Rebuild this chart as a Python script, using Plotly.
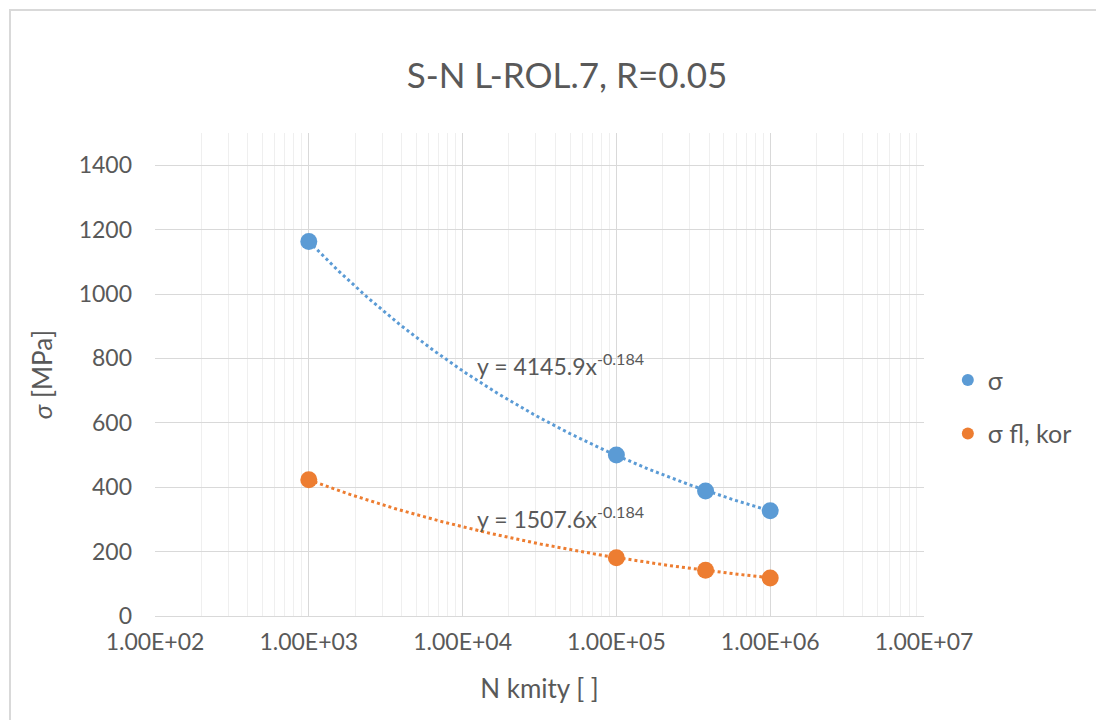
import numpy as np
import plotly.graph_objects as go

# ---- data ----
cycles = [1000, 100000, 380000, 1000000]
sigma = [1163, 500, 388, 327]
sigma_fl_kor = [423, 181, 142, 118]
series_names = ["σ", "σ fl, kor"]
colors = ["#5B9BD5", "#ED7D31"]
# power trendline coefficients as printed on the chart: y = a * x^b
trend_a = [4145.9, 1507.6]
trend_b = [-0.184, -0.184]
x_tickvals = [1e2, 1e3, 1e4, 1e5, 1e6, 1e7]
x_ticktext = ["1.00E+02", "1.00E+03", "1.00E+04", "1.00E+05", "1.00E+06", "1.00E+07"]
y_tickvals = [0, 200, 400, 600, 800, 1000, 1200, 1400]

FONT = "Lato, Calibri, sans-serif"
GRAY = "#595959"

fig = go.Figure()

xs = np.logspace(np.log10(min(cycles)), np.log10(max(cycles)), 200)
eq_pos = [(4.08, 781), (4.08, 305)]
for a, b, c, pos in zip(trend_a, trend_b, colors, eq_pos):
    fig.add_trace(go.Scatter(x=xs, y=a * xs ** b, mode="lines",
                             line=dict(color=c, width=3, dash="dot"),
                             showlegend=False, hoverinfo="skip"))
    fig.add_annotation(x=pos[0], y=pos[1], xref="x", yref="y",
                       text=f"y = {a:.1f}x<sup>{b:.3f}</sup>", showarrow=False,
                       xanchor="left", yanchor="middle",
                       font=dict(family=FONT, size=23, color=GRAY))

for i, (name, ys, c) in enumerate(zip(series_names, [sigma, sigma_fl_kor], colors)):
    fig.add_trace(go.Scatter(x=cycles, y=ys, mode="markers", name=name,
                             legendgroup=f"g{i}",
                             marker=dict(color=c, size=17)))

fig.update_layout(
    width=1096, height=720,
    paper_bgcolor="white", plot_bgcolor="white",
    margin=dict(l=155, r=172, t=133, b=104, autoexpand=False),
    title=dict(text="S-N L-ROL.7, R=0.05", x=567/1096, xref="container", xanchor="center",
               y=1 - 76/720, yref="container", yanchor="middle",
               font=dict(family=FONT, size=35, color=GRAY)),
    font=dict(family=FONT, color=GRAY),
    legend=dict(x=1.031, y=0.433, xanchor="left", yanchor="middle",
                font=dict(family=FONT, size=25, color=GRAY),
                tracegroupgap=18, itemsizing="constant", bgcolor="rgba(0,0,0,0)"),
    showlegend=True,
)

fig.update_xaxes(type="log", range=[2, 7], automargin=False,
                 tickvals=x_tickvals, ticktext=x_ticktext,
                 tickfont=dict(family=FONT, size=23, color=GRAY),
                 showgrid=True, gridcolor="#D9D9D9", gridwidth=1,
                 minor=dict(showgrid=True, gridcolor="#EFEFEF", gridwidth=1, dtick="D1"),
                 showline=True, linecolor="#D9D9D9", linewidth=1, mirror=False,
                 zeroline=False, ticks="", ticklabelstandoff=5,
                 title=dict(text="N kmity [ ]", font=dict(family=FONT, size=26, color=GRAY), standoff=26))

fig.update_yaxes(range=[0, 1500], tickvals=y_tickvals, automargin=False,
                 tickfont=dict(family=FONT, size=23, color=GRAY),
                 showgrid=True, gridcolor="#D9D9D9", gridwidth=1,
                 showline=False, zeroline=False, ticks="", ticklabelstandoff=22,
                 title=dict(text="<i>σ</i> [MPa]", font=dict(family=FONT, size=26, color=GRAY), standoff=18))

# outer chart frame
fig.add_shape(type="rect", xref="paper", yref="paper",
              x0=(10 - 155) / 769, x1=(1110 - 155) / 769,
              y0=(616 - 730) / 483, y1=(616 - 10) / 483,
              line=dict(color="#D9D9D9", width=2), fillcolor="rgba(0,0,0,0)", layer="below")

fig.write_html("out.html", config={"displayModeBar": False},
               post_script="document.body.style.margin='0px';")
